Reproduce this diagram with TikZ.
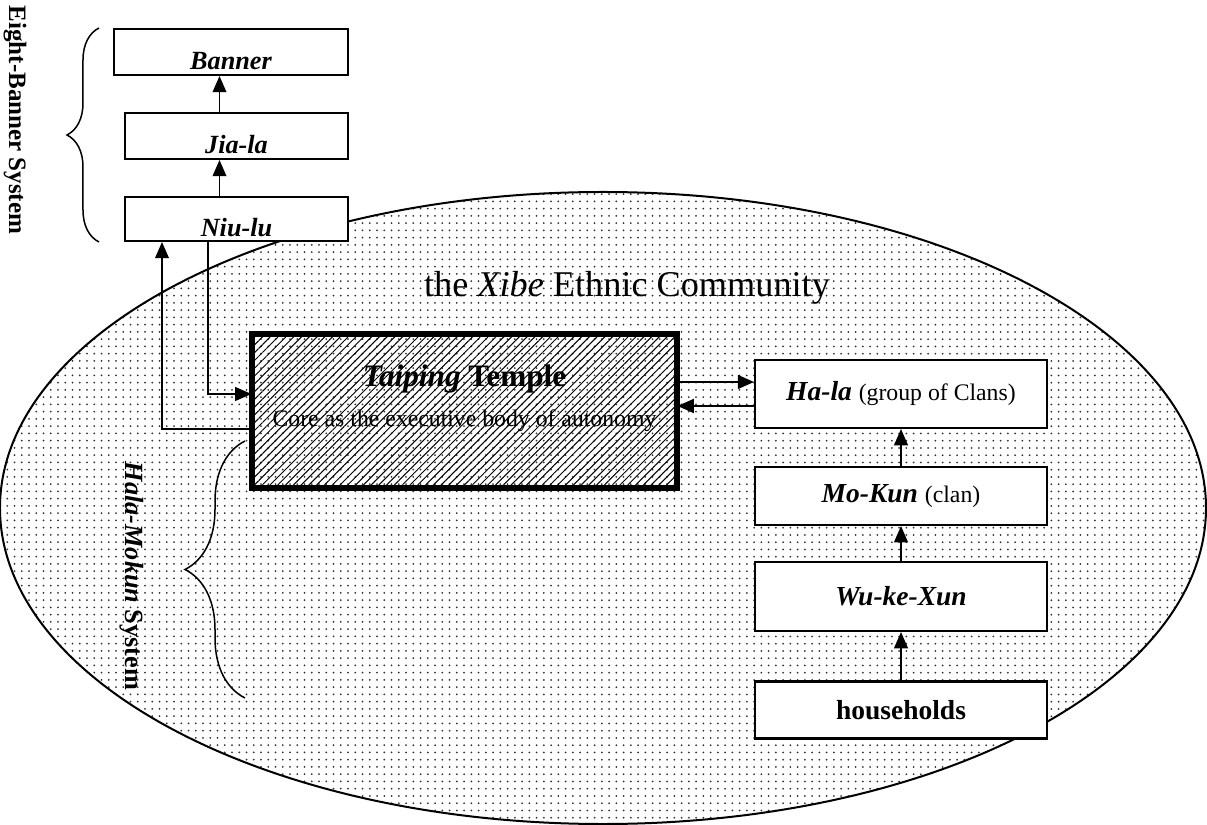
\documentclass[tikz,border=0pt]{standalone}
\usepackage{fontspec}
\setmainfont{Liberation Serif}
\usetikzlibrary{shapes,arrows.meta,positioning,calc,patterns.meta,decorations.pathreplacing}

\begin{document}
\begin{tikzpicture}[x=0.4pt, y=-0.4pt, node distance=14.4pt, font=\fontsize{10}{12}\selectfont]
    \tikzstyle{box} = [rectangle, draw, line width=0.8pt, fill=white, inner sep=0pt, font=\fontsize{11}{13}\selectfont]
    \tikzstyle{topbox} = [box, minimum width=89.2pt, minimum height=18.4pt, text height=14pt, text depth=0pt, font=\fontsize{10.5}{12}\selectfont\bfseries\itshape]
    \tikzstyle{unit} = [box, minimum width=116.8pt]
    \tikzstyle{line} = [draw, line width=0.6pt, -{Triangle[length=6.5pt, width=5.5pt]}]
    \tikzstyle{brace} = [draw, line width=0.6pt, decorate]

    \useasboundingbox (0,0) rectangle (1207,825);

    % community
    \node [ellipse, draw, line width=0.8pt, inner sep=0pt, minimum width=482.4pt, minimum height=252.8pt, pattern={Dots[distance=2.9pt, radius=0.4pt]}, pattern color=black!80] (community) at (603,508) {};
    \node [font=\fontsize{14.5}{16}\selectfont] (xibe) at (627,288) {the \textit{Xibe} Ethnic Community};

    % eight-banner side
    \node [topbox, minimum height=17.6pt] (niulu) at (236.5,219) {Niu-lu};
    \node [topbox, above=of niulu] (jiala) {Jia-la};
    \node [topbox, minimum width=93.6pt, above=of jiala.north east, anchor=south east] (banner) {Banner};

    % temple
    \node [rectangle, draw, line width=2.4pt, minimum width=170pt, minimum height=61.6pt, pattern={Lines[angle=45, distance=2.2pt, line width=0.4pt]}] (temple) at (464.5,411) {};
    \node [align=center, anchor=north, font=\fontsize{9.5}{11}\selectfont] (templetext) at ([yshift=-9pt]temple.north) {{\fontsize{12.5}{14}\selectfont\bfseries\textit{Taiping} Temple}\\[5pt]Core as the executive body of autonomy};

    % hala-mokun side
    \node [unit, minimum height=27.2pt] (hala) at (901,394) {\textbf{\textit{Ha-la}} {\fontsize{9.5}{11}\selectfont(group of Clans)}};
    \node [unit, minimum height=23.2pt, below=14.8pt of hala] (mokun) {\textbf{\textit{Mo-Kun}} {\fontsize{9.5}{11}\selectfont(clan)}};
    \node [unit, minimum height=27.6pt, below=14pt of mokun] (wukexun) {\textbf{\textit{Wu-ke-Xun}}};
    \node [unit, minimum height=22.8pt, line width=1.1pt, below=19.2pt of wukexun] (households) {\textbf{households}};

    % system labels
    \node [rotate=-90, font=\fontsize{10}{12}\selectfont\bfseries] (eightbanner) at (15,120) {Eight-Banner System};
    \node [rotate=-90, font=\fontsize{10.5}{12}\selectfont\bfseries] (halamokun) at (132,576) {\textit{Hala-Mokun} System};
    \draw [brace, decoration={brace, amplitude=12.8pt}] ([xshift=-10pt]niulu.south west) -- ([xshift=-10pt]niulu.south west |- banner.north);
    \draw [brace, decoration={brace, amplitude=24pt}] (245,698) -- (245,441);

    \path [line] ([xshift=-6.8pt]niulu.north) -- ([xshift=-6.8pt]niulu.north |- jiala.south);
    \path [line] ([xshift=-6.8pt]jiala.north) -- ([xshift=-6.8pt]jiala.north |- banner.south);
    \path [line] ([xshift=-11.4pt]niulu.south) |- ([yshift=6.8pt]temple.west);
    \path [line] ([yshift=-7.2pt]temple.west) -| ([xshift=-29.8pt]niulu.south);
    \path [line, line width=0.9pt] ([yshift=4.8pt]hala.west -| temple.east) -- ([yshift=4.8pt]hala.west);
    \path [line, line width=0.9pt] ([yshift=-4.8pt]hala.west) -- ([yshift=-4.8pt]hala.west -| temple.east);
    \path [line] (mokun) -- (hala);
    \path [line] (wukexun) -- (mokun);
    \path [line] (households) -- (wukexun);
\end{tikzpicture}
\end{document}
